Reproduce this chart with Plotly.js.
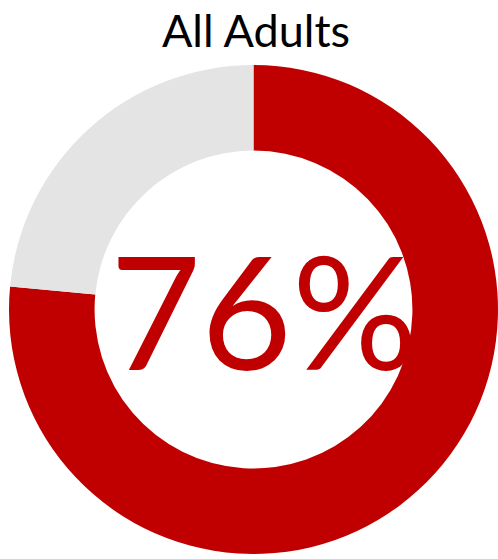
<!DOCTYPE html>
<html>
<head>
<meta charset="utf-8">
<script src="https://cdn.plot.ly/plotly-3.0.1.min.js"></script>
<style>html,body{margin:0;padding:0;background:#fff;}#chart{width:498px;height:559px;}</style>
</head>
<body>
<div id="chart"></div>
<script>
var labels = ["Yes", "No"];
var values = [76.5, 23.5];
var colors = ["#C00000", "#E4E4E4"];
var titleText = "All Adults";
var centerLabel = "76%";

var data = [{
  type: "pie",
  labels: labels,
  values: values,
  hole: 0.65,
  sort: false,
  direction: "clockwise",
  rotation: 0,
  textinfo: "none",
  hoverinfo: "label+percent",
  marker: {colors: colors, line: {width: 0}},
  domain: {x: [0, 1], y: [0.0089, 0.8837]}
}];

var layout = {
  width: 498,
  height: 559,
  margin: {l: 9, r: 0, t: 0, b: 0},
  paper_bgcolor: "#ffffff",
  showlegend: false,
  title: {
    text: titleText,
    font: {family: "Lato, 'Open Sans', sans-serif", size: 45, color: "#000000"},
    x: 0.514, xanchor: "center",
    y: 0.972, yanchor: "top"
  },
  annotations: [{
    text: centerLabel,
    showarrow: false,
    xref: "paper", yref: "paper",
    x: 0.522, y: 0.447,
    xanchor: "center", yanchor: "middle",
    font: {family: "Lato, 'Open Sans', sans-serif", size: 157, color: "#C00000"}
  }]
};

Plotly.newPlot("chart", data, layout, {displayModeBar: false, staticPlot: true});
</script>
</body>
</html>
